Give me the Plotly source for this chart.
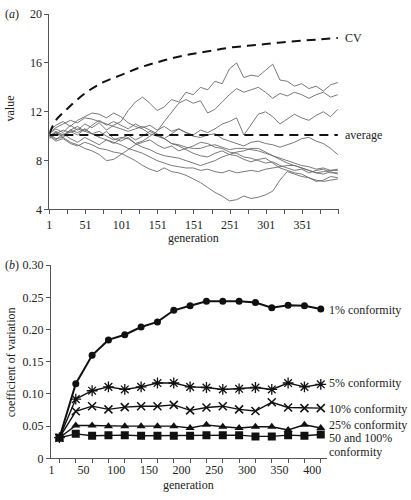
import plotly.graph_objects as go

# ---------------- Panel (a) data ----------------
GEN_A = [1] + list(range(10, 401, 10))

LINE_A = [10.2, 10.6, 10.3, 10.9, 10.5, 11.0, 10.7, 11.1, 10.5, 10.9,
          11.2, 12.1, 12.8, 13.2, 12.7, 12.1, 12.4, 13.0, 12.8, 13.6,
          13.4, 14.0, 13.8, 14.5, 14.3, 15.5, 16.0, 14.8, 15.0, 14.9,
          15.4, 15.9, 14.6, 14.5, 14.1, 14.3, 13.9, 14.1, 13.7, 14.2,
          14.4]
LINE_B = [10.0, 10.3, 9.9, 10.4, 10.1, 10.6, 10.2, 10.0, 10.4, 9.8,
          9.6, 9.9, 9.4, 9.6, 10.0, 10.4, 11.2, 12.0, 12.7, 13.0,
          12.7, 12.9, 11.9, 12.2, 12.8, 13.4, 13.9, 13.6, 13.8, 14.0,
          13.6, 13.1, 13.5, 13.3, 13.6, 13.4, 13.1, 13.4, 13.6, 13.2,
          13.4]
LINE_C = [10.1, 9.7, 10.2, 9.8, 9.5, 9.9, 9.6, 9.3, 9.7, 9.4,
          9.8, 10.1, 9.7, 10.0, 10.4, 10.1, 9.8, 10.2, 10.6, 10.3,
          10.1, 10.5, 10.3, 10.6, 11.0, 11.2, 11.5, 10.1, 11.0, 11.8,
          12.0, 11.6, 11.0, 11.4, 11.8, 11.5, 11.3, 11.7, 12.0, 11.6,
          12.2]
LINE_D = [9.9, 10.3, 10.0, 10.5, 10.8, 10.4, 10.9, 11.3, 10.9, 11.2,
          10.9, 10.6, 11.0, 10.7, 10.9, 10.5, 10.8, 10.4, 10.6, 10.3,
          10.0, 9.9, 10.1, 10.2, 9.8, 9.6, 9.4, 9.2, 9.5, 9.6,
          9.4, 9.3, 9.1, 9.3, 9.5, 9.8, 9.9, 9.6, 9.4, 9.0,
          8.5]
LINE_E = [10.0, 9.6, 9.8, 9.4, 9.2, 9.5, 9.3, 9.0, 8.9, 8.7,
          8.6, 8.3, 8.0, 7.6, 7.3, 7.1, 7.4, 7.1, 7.0, 6.8,
          6.5, 6.2, 5.8, 5.4, 5.1, 4.7, 4.8, 5.1, 4.9, 5.0,
          5.2, 5.5, 6.4, 7.1, 6.9, 6.7, 6.6, 6.3, 6.4, 6.7,
          6.6]
LINE_F = [10.2, 9.8, 9.9, 9.5, 9.3, 9.0, 8.8, 8.5, 8.0, 8.1,
          8.5, 8.9, 9.3, 9.5, 9.7, 9.3, 9.0, 9.2, 8.8, 9.0,
          9.2, 9.5, 9.4, 9.1, 9.0, 8.7, 8.6, 8.3, 8.2, 8.0,
          7.8, 7.9, 7.6, 7.4, 7.2, 7.3, 7.0, 7.2, 7.3, 7.0,
          7.0]
LINE_G = [10.4, 10.9, 11.2, 10.8, 11.3, 11.6, 11.9, 11.8, 11.5, 11.9,
          11.6, 11.1, 10.8, 10.6, 10.2, 10.0, 9.8, 9.4, 9.2, 8.9,
          8.6, 8.4, 8.3, 8.6, 8.8, 8.5, 8.4, 8.1, 7.9, 8.1,
          8.2, 7.8, 7.4, 7.2, 7.0, 6.9, 6.6, 6.4, 6.3, 6.4,
          6.5]
LINE_H = [10.0, 10.4, 10.1, 10.5, 10.3, 10.6, 10.2, 9.9, 9.7, 9.5,
          9.3, 9.0, 8.8, 8.6, 8.3, 8.0, 7.8, 7.6, 7.5, 7.4,
          7.4, 7.2, 7.3, 7.1, 7.0, 7.2, 7.0, 7.1, 7.2, 7.1,
          7.3, 7.4, 7.5, 7.6, 7.6, 7.4, 7.2, 7.0, 7.1, 7.2,
          7.3]
LINE_I = [9.8, 10.2, 10.5, 10.3, 10.6, 10.4, 10.2, 10.4, 10.0, 9.7,
          9.9, 9.8, 9.4, 9.1, 8.9, 8.6, 8.4, 8.3, 8.2, 8.0,
          7.8, 7.6, 7.8, 8.0, 8.3, 8.5, 8.7, 8.8, 9.0, 9.0,
          8.7, 8.4, 8.1, 7.8, 7.6, 7.4, 7.2, 7.0, 6.9, 7.1,
          6.9]
LINE_J = [10.3, 10.7, 11.0, 11.3, 11.1, 11.5, 11.4, 11.2, 11.0, 10.8,
          10.6, 10.4, 10.6, 10.8, 10.5, 10.2, 9.8, 9.4, 9.3, 9.1,
          9.0, 9.0, 9.2, 9.3, 9.1, 8.9, 9.0, 9.0, 8.9, 8.8,
          8.6, 8.4, 8.2, 8.0, 7.8, 7.6, 7.5, 7.3, 7.4, 7.2,
          7.2]
WALKS = [LINE_A, LINE_B, LINE_C, LINE_D, LINE_E, LINE_F, LINE_G, LINE_H, LINE_I, LINE_J]

GEN_CV = [1, 10, 25, 50, 75, 100, 125, 150, 175, 200, 225, 250, 275, 300, 325, 350, 375, 400]
CV = [10.2, 11.3, 12.2, 13.5, 14.4, 15.0, 15.6, 16.05, 16.45, 16.75, 17.0, 17.25,
      17.4, 17.55, 17.7, 17.82, 17.93, 18.05]
GEN_AVG = [1, 400]
AVG = [10.1, 10.1]

A_XTICKS = list(range(1, 402, 25))
A_XLABELS = ["1", "", "51", "", "101", "", "151", "", "151", "", "251", "", "301", "", "351", "", ""]
A_YTICKS = [4, 8, 12, 16, 20]

# ---------------- Panel (b) data ----------------
GEN_B = list(range(13, 414, 25))
P1 = [0.032, 0.116, 0.160, 0.184, 0.192, 0.204, 0.212, 0.230, 0.237, 0.244, 0.244,
      0.244, 0.242, 0.234, 0.238, 0.237, 0.232]
P5 = [0.032, 0.092, 0.105, 0.111, 0.107, 0.111, 0.117, 0.117, 0.111, 0.110, 0.107,
      0.108, 0.110, 0.107, 0.117, 0.111, 0.115]
P10 = [0.032, 0.073, 0.081, 0.076, 0.0795, 0.081, 0.081, 0.083, 0.0745, 0.079, 0.081,
       0.076, 0.0735, 0.087, 0.079, 0.078, 0.078]
P25 = [0.032, 0.051, 0.051, 0.050, 0.050, 0.050, 0.050, 0.050, 0.047, 0.052, 0.049,
       0.047, 0.049, 0.049, 0.044, 0.052, 0.047]
P50 = [0.032, 0.038, 0.035, 0.036, 0.036, 0.035, 0.035, 0.035, 0.035, 0.036, 0.036,
       0.036, 0.034, 0.034, 0.036, 0.035, 0.037]
B_LABELS = ["1% conformity", "5% conformity", "10% conformity", "25% conformity",
            "50 and 100%", "conformity"]
B_XTICKS = [1, 50, 100, 150, 200, 250, 300, 350, 400]
B_YTICKS = [0, 0.05, 0.10, 0.15, 0.20, 0.25, 0.30]
B_YLABELS = ["0", "0.05", "0.10", "0.15", "0.20", "0.25", "0.30"]

W, H = 411, 500
FONT = "Liberation Serif"
INK = "#222222"

fig = go.Figure()

for ys in WALKS:
    fig.add_trace(go.Scatter(x=GEN_A, y=ys, mode="lines",
                             line=dict(color="#6a6a6a", width=0.9),
                             xaxis="x", yaxis="y", hoverinfo="skip"))

fig.add_trace(go.Scatter(x=GEN_CV, y=CV, mode="lines", line_shape="spline",
                         line=dict(color="#111111", width=2, dash="9px,6px"),
                         xaxis="x", yaxis="y"))
fig.add_trace(go.Scatter(x=GEN_AVG, y=AVG, mode="lines",
                         line=dict(color="#111111", width=2, dash="9px,6px"),
                         xaxis="x", yaxis="y"))

series_b = [
    (P1, dict(symbol="circle", size=7, color="#111111"), 2.0),
    (P5, dict(symbol="asterisk-open", size=9, color="#111111", line=dict(width=1.3, color="#111111")), 1.4),
    (P10, dict(symbol="x-thin-open", size=8, color="#111111", line=dict(width=1.5, color="#111111")), 1.4),
    (P25, dict(symbol="triangle-up", size=8, color="#111111"), 1.4),
    (P50, dict(symbol="square", size=8, color="#111111"), 1.4),
]
for ys, mk, lw in series_b:
    fig.add_trace(go.Scatter(x=GEN_B, y=ys, mode="lines+markers",
                             line=dict(color="#111111", width=lw), marker=mk,
                             xaxis="x2", yaxis="y2"))

def px_x(p):
    return p / W

def px_y(p):
    return 1 - p / H

axis_common = dict(showgrid=False, zeroline=False, showline=True, linecolor="#555555",
                   linewidth=1, ticks="outside", tickcolor="#555555", ticklen=4,
                   tickfont=dict(family=FONT, size=12, color=INK), fixedrange=True)

fig.update_layout(
    width=W, height=H,
    margin=dict(l=0, r=0, t=0, b=0),
    paper_bgcolor="white", plot_bgcolor="white",
    showlegend=False,
    font=dict(family=FONT, size=12, color=INK),
    xaxis=dict(domain=[px_x(46.7), px_x(338)], anchor="y", range=[1, 401],
               tickmode="array", tickvals=A_XTICKS, ticktext=A_XLABELS, **axis_common),
    yaxis=dict(domain=[px_y(208.3), px_y(7.3)], anchor="x", range=[4, 20],
               tickmode="array", tickvals=A_YTICKS, **axis_common),
    xaxis2=dict(domain=[px_x(48.3), px_x(326.7)], anchor="y2", range=[0, 423],
                tickmode="array", tickvals=B_XTICKS,
                minor=dict(tick0=13, dtick=25, ticks="outside", ticklen=4, tickcolor="#555555"),
                **{**axis_common, "ticks": ""}),
    yaxis2=dict(domain=[px_y(464.3), px_y(265.7)], anchor="x2", range=[0, 0.30],
                tickmode="array", tickvals=B_YTICKS, ticktext=B_YLABELS, **axis_common),
)

ann = []
# line labels panel (a)
ann.append(dict(x=GEN_CV[-1], y=CV[-1], xref="x", yref="y", text="CV", showarrow=False,
                xanchor="left", yanchor="middle", xshift=5, font=dict(size=12)))
ann.append(dict(x=GEN_AVG[-1], y=AVG[-1], xref="x", yref="y", text="average", showarrow=False,
                xanchor="left", yanchor="middle", xshift=5, font=dict(size=12)))
# line labels panel (b)
b_last = [P1[-1], P5[-1], P10[-1], P25[-1], P50[-1], P50[-1]]
b_shift = [-1, 1, -1, 3, -4, -18]
for lab, yv, ys in zip(B_LABELS, b_last, b_shift):
    ann.append(dict(x=GEN_B[-1], y=yv, xref="x2", yref="y2", text=lab, showarrow=False,
                    xanchor="left", yanchor="middle", xshift=7, yshift=ys, align="left",
                    font=dict(size=12), borderpad=0))
# panel letters
ann.append(dict(x=0, y=px_y(7.5), xref="paper", yref="paper", text="(<i>a</i>)",
                showarrow=False, xanchor="left", yanchor="middle", font=dict(size=12)))
ann.append(dict(x=0, y=px_y(265.7), xref="paper", yref="paper", text="(<i>b</i>)",
                showarrow=False, xanchor="left", yanchor="middle", font=dict(size=12)))
# axis titles
ann.append(dict(x=px_x(7.5), y=px_y(104), xref="paper", yref="paper", text="value",
                showarrow=False, textangle=-90, xanchor="center", yanchor="middle",
                font=dict(size=12)))
ann.append(dict(x=px_x(192), y=px_y(238), xref="paper", yref="paper", text="generation",
                showarrow=False, xanchor="center", yanchor="middle", font=dict(size=12)))
ann.append(dict(x=px_x(7.5), y=px_y(365), xref="paper", yref="paper",
                text="coefficient of variation", showarrow=False, textangle=-90,
                xanchor="center", yanchor="middle", font=dict(size=12)))
ann.append(dict(x=px_x(187), y=px_y(492), xref="paper", yref="paper", text="generation",
                showarrow=False, xanchor="center", yanchor="middle", font=dict(size=12)))
fig.update_layout(annotations=ann)

fig.write_html("out.html", config={"displayModeBar": False},
               post_script="document.body.style.margin='0';document.body.style.overflow='hidden';")
